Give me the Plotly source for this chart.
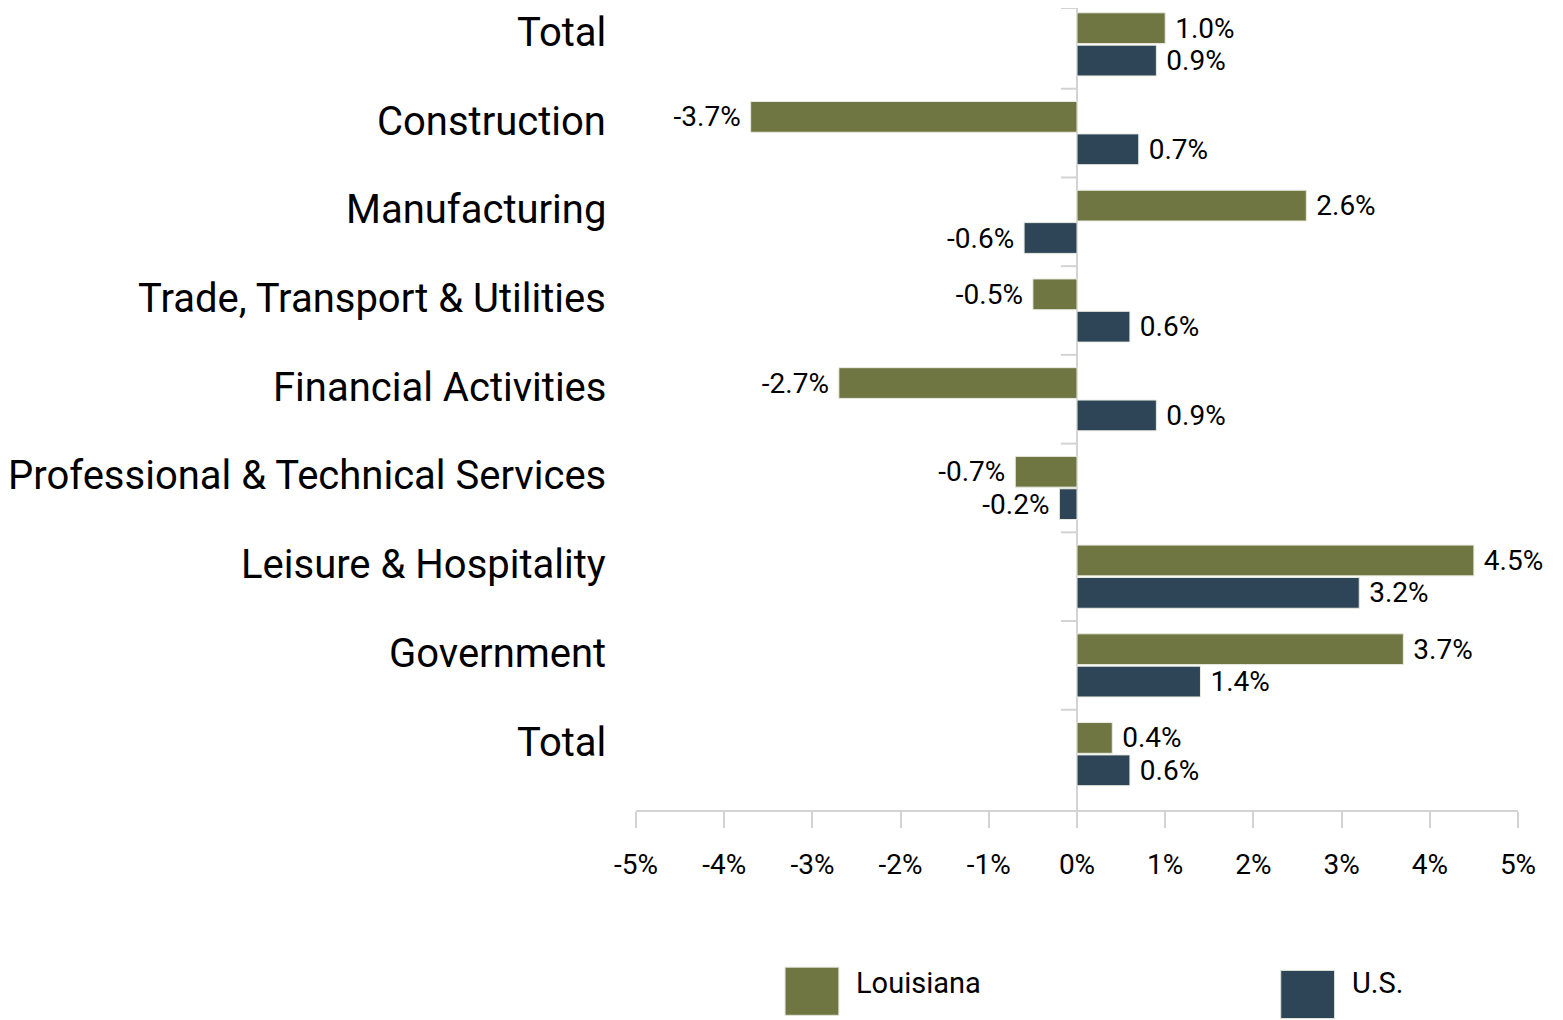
import plotly.graph_objects as go

categories = ["Total", "Construction", "Manufacturing", "Trade, Transport & Utilities",
              "Financial Activities", "Professional & Technical Services",
              "Leisure & Hospitality", "Government", "Total"]
louisiana = [1.0, -3.7, 2.6, -0.5, -2.7, -0.7, 4.5, 3.7, 0.4]
us = [0.9, 0.7, -0.6, 0.6, 0.9, -0.2, 3.2, 1.4, 0.6]
x_ticks = [-5, -4, -3, -2, -1, 0, 1, 2, 3, 4, 5]
x_tick_labels = [f"{v}%" for v in x_ticks]

series = [("Louisiana", louisiana, "#6f7642"), ("U.S.", us, "#2d4556")]
ypos = list(range(len(categories)))
y_top, y_bottom = -0.41, len(categories) - 0.37


def fmt(v):
    return f"{v:.1f}% " if v < 0 else f" {v:.1f}%"


fig = go.Figure()
for name, vals, color in series:
    fig.add_trace(go.Bar(
        y=ypos, x=vals, orientation="h", name=name,
        marker=dict(color=color, line=dict(color="#e8ebe0", width=1)),
        text=[fmt(v) for v in vals], textposition="outside", constraintext="none",
        textfont=dict(family="Roboto", size=28, color="#000000"),
        cliponaxis=False,
    ))

# boundary ticks along the zero line
shapes = []
tick_ys = [y_top] + [i - 0.5 for i in range(1, len(categories))]
for yv in tick_ys:
    shapes.append(dict(type="line", xref="x", yref="y", xsizemode="pixel", xanchor=0,
                       x0=-16, x1=0, y0=yv, y1=yv,
                       line=dict(color="#d3d3d3", width=2)))

annotations = []
# category labels
for i, cat in enumerate(categories):
    annotations.append(dict(text=cat, xref="paper", yref="y", x=0, y=i,
                            xanchor="right", yanchor="middle", xshift=-28, yshift=12,
                            showarrow=False,
                            font=dict(family="Roboto", size=40, color="#000000")))

# legend drawn manually with large swatches
legend_items = [("Louisiana", "#6f7642", 0.169, -0.196), ("U.S.", "#2d4556", 0.731, -0.2)]
for name, color, xp, yp in legend_items:
    shapes.append(dict(type="rect", xref="paper", yref="paper",
                       x0=xp, x1=xp + 0.061, y0=yp - 0.06, y1=yp,
                       fillcolor=color, line=dict(color="#dfe3d8", width=1)))
    annotations.append(dict(text=name, xref="paper", yref="paper", x=xp + 0.078, y=-0.216,
                            xanchor="left", yanchor="middle", showarrow=False,
                            font=dict(family="Roboto", size=29, color="#000000")))

fig.update_layout(
    width=1555, height=1012,
    margin=dict(l=628, r=45, t=0, b=210),
    paper_bgcolor="white", plot_bgcolor="white",
    barmode="group", bargap=0.27, bargroupgap=0.05,
    showlegend=False,
    font=dict(family="Roboto", color="#000000"),
    shapes=shapes, annotations=annotations,
    xaxis=dict(range=[-5, 5], tickvals=x_ticks, ticktext=x_tick_labels,
               showgrid=False, zeroline=True, zerolinecolor="#d3d3d3", zerolinewidth=2,
               showline=True, linecolor="#d3d3d3", linewidth=2,
               ticks="outside", ticklen=16, tickwidth=2, tickcolor="#d3d3d3",
               ticklabelstandoff=12,
               tickfont=dict(family="Roboto", size=28, color="#000000")),
    yaxis=dict(range=[y_bottom, y_top], tickvals=ypos, showticklabels=False,
               showgrid=False, zeroline=False, showline=False, ticks=""),
)

fig.write_html("out.html")
